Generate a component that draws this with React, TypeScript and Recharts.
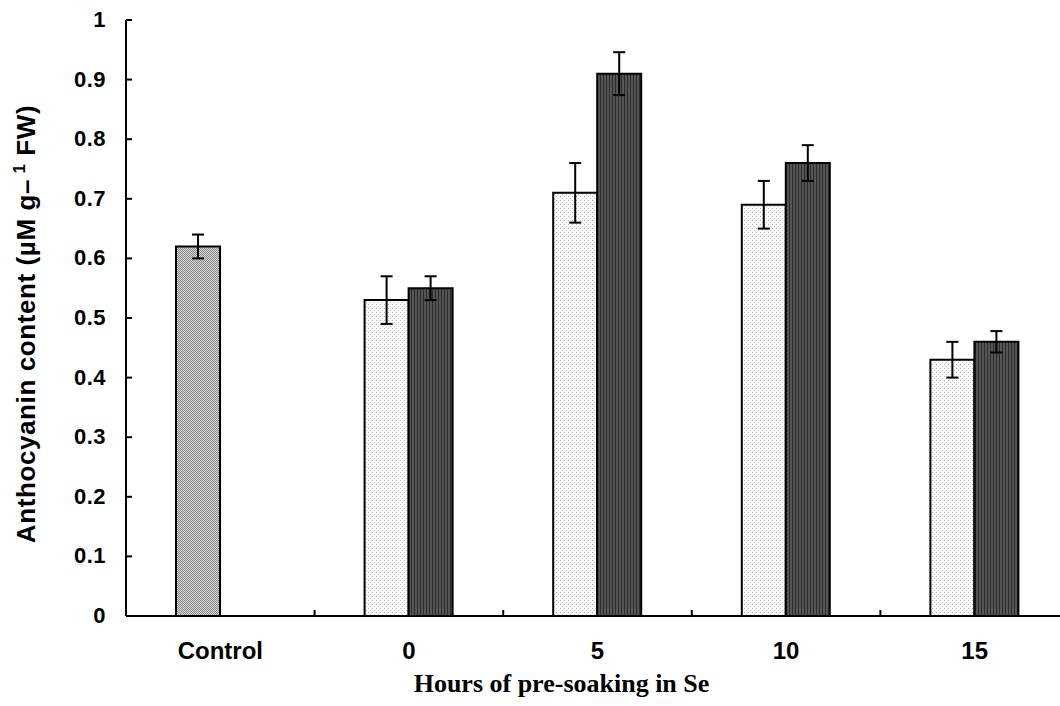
import React from "react";
import { BarChart, Bar, XAxis, YAxis, ErrorBar, Cell, Label } from "recharts";

const categories = ["Control", "0", "5", "10", "15"];
const primingA = [0.62, 0.53, 0.71, 0.69, 0.43];
const primingAErr = [0.02, 0.04, 0.05, 0.04, 0.03];
const primingB = [null, 0.55, 0.91, 0.76, 0.46];
const primingBErr = [null, 0.02, 0.036, 0.03, 0.018];
const yTicks = [0, 0.1, 0.2, 0.3, 0.4, 0.5, 0.6, 0.7, 0.8, 0.9, 1];

const data = categories.map((c, i) => ({
  name: c,
  a: primingA[i],
  aErr: primingAErr[i],
  b: primingB[i],
  bErr: primingBErr[i],
}));

const W = 1069;
const H = 706;
const AXIS_W = 126;
const halfBand = (W - AXIS_W) / categories.length / 2;

const YTick = (props: any) => {
  const { x, y, payload } = props;
  return (
    <g>
      <line x1={x} x2={x + 6} y1={y} y2={y} stroke="#000" strokeWidth={2} />
      <text
        x={x - 20}
        y={y}
        dy={7}
        textAnchor="end"
        fontFamily="Arial, 'Liberation Sans', sans-serif"
        fontWeight="bold"
        fontSize={22}
        letterSpacing={0.5}
        fill="#000"
      >
        {payload.value}
      </text>
    </g>
  );
};

const XTick = (props: any) => {
  const { x, y, payload } = props;
  return (
    <g>
      <line x1={x + halfBand} x2={x + halfBand} y1={y} y2={y - 6} stroke="#000" strokeWidth={2} />
      <text
        x={x}
        y={y + 43}
        textAnchor="middle"
        fontFamily="Arial, 'Liberation Sans', sans-serif"
        fontWeight="bold"
        fontSize={24}
        fill="#000"
      >
        {payload.value}
      </text>
    </g>
  );
};

export default function App() {
  return (
    <div style={{ position: "absolute", left: 0, top: 0, width: 1060, height: H, overflow: "hidden", background: "#fff" }}>
      <BarChart
        width={W}
        height={H}
        data={data}
        margin={{ top: 20, right: 0, bottom: 0, left: 0 }}
        barGap={0}
        barSize={44}
      >
        <defs>
          <pattern id="ctrlFill" patternUnits="userSpaceOnUse" width={2} height={2}>
            <rect width={2} height={2} fill="#d2d2d2" />
            <rect width={1} height={1} fill="#8e8e8e" />
            <rect x={1} y={1} width={1} height={1} fill="#8e8e8e" />
          </pattern>
          <pattern id="lightFill" patternUnits="userSpaceOnUse" width={4} height={4}>
            <rect width={4} height={4} fill="#fafafa" />
            <rect width={1} height={1} fill="#b4b4b4" />
            <rect x={2} y={2} width={1} height={1} fill="#c8c8c8" />
          </pattern>
          <pattern id="darkFill" patternUnits="userSpaceOnUse" width={3} height={3}>
            <rect width={3} height={3} fill="#555555" />
            <rect width={1} height={3} fill="#2c2c2c" />
          </pattern>
        </defs>
        <XAxis
          dataKey="name"
          tick={<XTick />}
          tickSize={0}
          tickMargin={0}
          height={90}
          axisLine={{ stroke: "#000", strokeWidth: 2 }}
          tickLine={false}
          interval={0}
        >
          <Label
            content={(p: any) => {
              const vb = p.viewBox;
              return (
                <text
                  x={vb.x + vb.width / 2 - 36}
                  y={692}
                  textAnchor="middle"
                  fontFamily="'Times New Roman', 'Liberation Serif', serif"
                  fontWeight="bold"
                  fontSize={26}
                  fill="#000"
                >
                  Hours of pre-soaking in Se
                </text>
              );
            }}
          />
        </XAxis>
        <YAxis
          width={AXIS_W}
          domain={[0, 1]}
          ticks={yTicks}
          tick={<YTick />}
          tickSize={0}
          tickMargin={0}
          tickLine={false}
          axisLine={{ stroke: "#000", strokeWidth: 2 }}
        >
          <Label
            content={() => (
              <text
                x={35}
                y={324}
                transform="rotate(-90 35 324)"
                textAnchor="middle"
                fontFamily="Arial, 'Liberation Sans', sans-serif"
                fontWeight="bold"
                fontSize={26}
                letterSpacing={0.6}
                fill="#000"
              >
                Anthocyanin content (µM g
                <tspan>–</tspan>
                <tspan dy={-10} fontSize={17}> 1</tspan>
                <tspan dy={10}> FW)</tspan>
              </text>
            )}
          />
        </YAxis>
        <Bar dataKey="a" fill="url(#lightFill)" stroke="#000" strokeWidth={2} isAnimationActive={false}>
          {data.map((d, i) => (
            <Cell key={d.name} fill={i === 0 ? "url(#ctrlFill)" : "url(#lightFill)"} />
          ))}
          <ErrorBar dataKey="aErr" width={6} stroke="#000" strokeWidth={2} />
        </Bar>
        <Bar dataKey="b" fill="url(#darkFill)" stroke="#000" strokeWidth={2} isAnimationActive={false}>
          <ErrorBar dataKey="bErr" width={6} stroke="#000" strokeWidth={2} />
        </Bar>
      </BarChart>
    </div>
  );
}
